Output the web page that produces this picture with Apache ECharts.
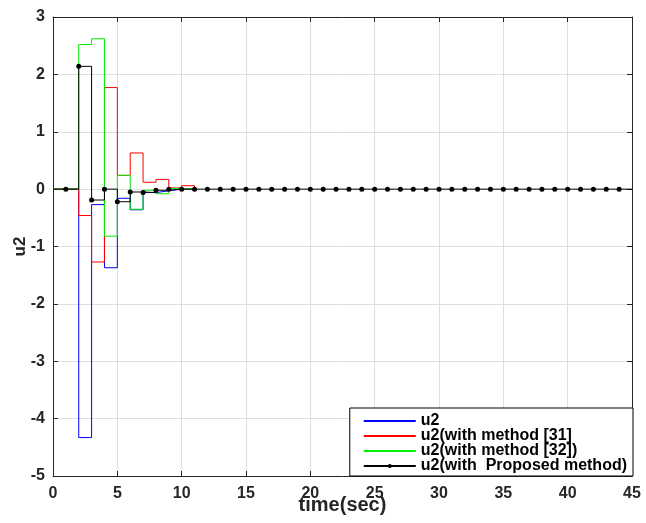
<!DOCTYPE html>
<html>
<head>
<meta charset="utf-8">
<script src="https://cdn.jsdelivr.net/npm/echarts@6/dist/echarts.min.js"></script>
<style>
  html, body { margin: 0; padding: 0; background: #ffffff; }
  #chart { width: 646px; height: 523px; }
</style>
</head>
<body>
<div id="chart"></div>
<script>
// Sample instants (seconds) of the short transient records
const timeShort = [0, 1, 2, 3, 4, 5, 6, 7, 8, 9, 10, 11];
// Sample instants (seconds) of the full proposed-method record
const timeFull = [0, 1, 2, 3, 4, 5, 6, 7, 8, 9, 10, 11, 12, 13, 14, 15, 16, 17, 18, 19, 20, 21, 22,
  23, 24, 25, 26, 27, 28, 29, 30, 31, 32, 33, 34, 35, 36, 37, 38, 39, 40, 41, 42, 43, 44, 45];

// Control input u2, held constant over each sample period
const u2Plain = [0, 0, -4.33, -0.27, -1.37, -0.16, -0.36, -0.06, -0.03, 0, 0, 0];
const u2Method31 = [0, 0, -0.46, -1.27, 1.77, 0.24, 0.63, 0.12, 0.17, 0.02, 0.06, 0];
const u2Method32 = [0, 0, 2.52, 2.62, -0.82, 0.24, -0.35, -0.02, -0.08, 0.01, 0, 0];
const u2Proposed = [0, 0, 2.14, -0.19, 0, -0.22, -0.05, -0.06, -0.02, 0, 0, 0, 0, 0, 0, 0, 0, 0, 0,
  0, 0, 0, 0, 0, 0, 0, 0, 0, 0, 0, 0, 0, 0, 0, 0, 0, 0, 0, 0, 0, 0, 0, 0, 0, 0, 0];

const seriesNames = ['u2', 'u2(with method [31]', 'u2(with method [32])', 'u2(with  Proposed method)'];

// Axis ranges and tick spacing
const xMin = 0, xMax = 45, xStep = 5;
const yMin = -5, yMax = 3, yStep = 1;

const FONT = '"Liberation Sans", Arial, Helvetica, sans-serif';
const AXIS_COLOR = '#262626';
const GRID_COLOR = '#dedede';

function pairs(xs, ys) {
  return xs.map((x, i) => [x, ys[i]]);
}

// The proposed record carries markers only on the interior samples
const proposedData = timeFull.map((t, i) => {
  const item = { value: [t, u2Proposed[i]] };
  if (i === 0 || i === timeFull.length - 1) item.symbol = 'none';
  return item;
});

const chart = echarts.init(document.getElementById('chart'), null, { renderer: 'canvas' });

const tickLabel = { color: AXIS_COLOR, fontFamily: FONT, fontWeight: 'bold', fontSize: 16 };

function frameAxis(position, extra) {
  return Object.assign({
    type: 'value', position: position,
    axisLine: { show: true, onZero: false, lineStyle: { color: AXIS_COLOR, width: 1 } },
    axisTick: { show: true, inside: true, length: 5, lineStyle: { color: AXIS_COLOR } },
    axisLabel: { show: false },
    splitLine: { show: false }
  }, extra);
}

chart.setOption({
  animation: false,
  backgroundColor: '#ffffff',
  grid: { left: 53, right: 14, top: 17, bottom: 47, containLabel: false, outerBoundsMode: 'none' },
  xAxis: [
    frameAxis('bottom', {
      min: xMin, max: xMax, interval: xStep,
      name: 'time(sec)', nameLocation: 'middle', nameGap: 19, nameMoveOverlap: false,
      nameTextStyle: { color: AXIS_COLOR, fontFamily: FONT, fontWeight: 'bold', fontSize: 20 },
      axisLabel: Object.assign({ show: true, margin: 10 }, tickLabel),
      splitLine: { show: true, lineStyle: { color: GRID_COLOR, width: 1 } }
    }),
    frameAxis('top', { min: xMin, max: xMax, interval: xStep })
  ],
  yAxis: [
    frameAxis('left', {
      min: yMin, max: yMax, interval: yStep,
      name: 'u2', nameLocation: 'middle', nameGap: 24, nameMoveOverlap: false,
      nameTextStyle: { color: AXIS_COLOR, fontFamily: FONT, fontWeight: 'bold', fontSize: 17 },
      axisLabel: Object.assign({ show: true, margin: 8 }, tickLabel),
      splitLine: { show: true, lineStyle: { color: GRID_COLOR, width: 1 } }
    }),
    frameAxis('right', { min: yMin, max: yMax, interval: yStep })
  ],
  legend: {
    orient: 'vertical',
    right: 13,
    bottom: 47,
    padding: [5, 6, 2, 13],
    itemWidth: 52,
    itemHeight: 5,
    itemGap: -1,
    backgroundColor: '#ffffff',
    borderColor: '#000000',
    borderWidth: 1,
    borderRadius: 0,
    selectedMode: false,
    textStyle: { color: '#000000', fontFamily: FONT, fontWeight: 'bold', fontSize: 16 },
    data: [
      { name: seriesNames[0], itemStyle: { opacity: 0 } },
      { name: seriesNames[1], itemStyle: { opacity: 0 } },
      { name: seriesNames[2], itemStyle: { opacity: 0 } },
      { name: seriesNames[3] }
    ]
  },
  series: [
    {
      name: seriesNames[0], type: 'line', step: 'end', symbol: 'none',
      data: pairs(timeShort, u2Plain),
      lineStyle: { color: '#0000ff', width: 1 }, itemStyle: { color: '#0000ff' }
    },
    {
      name: seriesNames[1], type: 'line', step: 'end', symbol: 'none',
      data: pairs(timeShort, u2Method31),
      lineStyle: { color: '#ff0000', width: 1 }, itemStyle: { color: '#ff0000' }
    },
    {
      name: seriesNames[2], type: 'line', step: 'end', symbol: 'none',
      data: pairs(timeShort, u2Method32),
      lineStyle: { color: '#00ee00', width: 1 }, itemStyle: { color: '#00ee00' }
    },
    {
      name: seriesNames[3], type: 'line', step: 'end', symbol: 'circle', symbolSize: 5,
      showAllSymbol: true,
      data: proposedData,
      lineStyle: { color: '#000000', width: 1 }, itemStyle: { color: '#000000' }
    }
  ]
});
</script>
</body>
</html>
